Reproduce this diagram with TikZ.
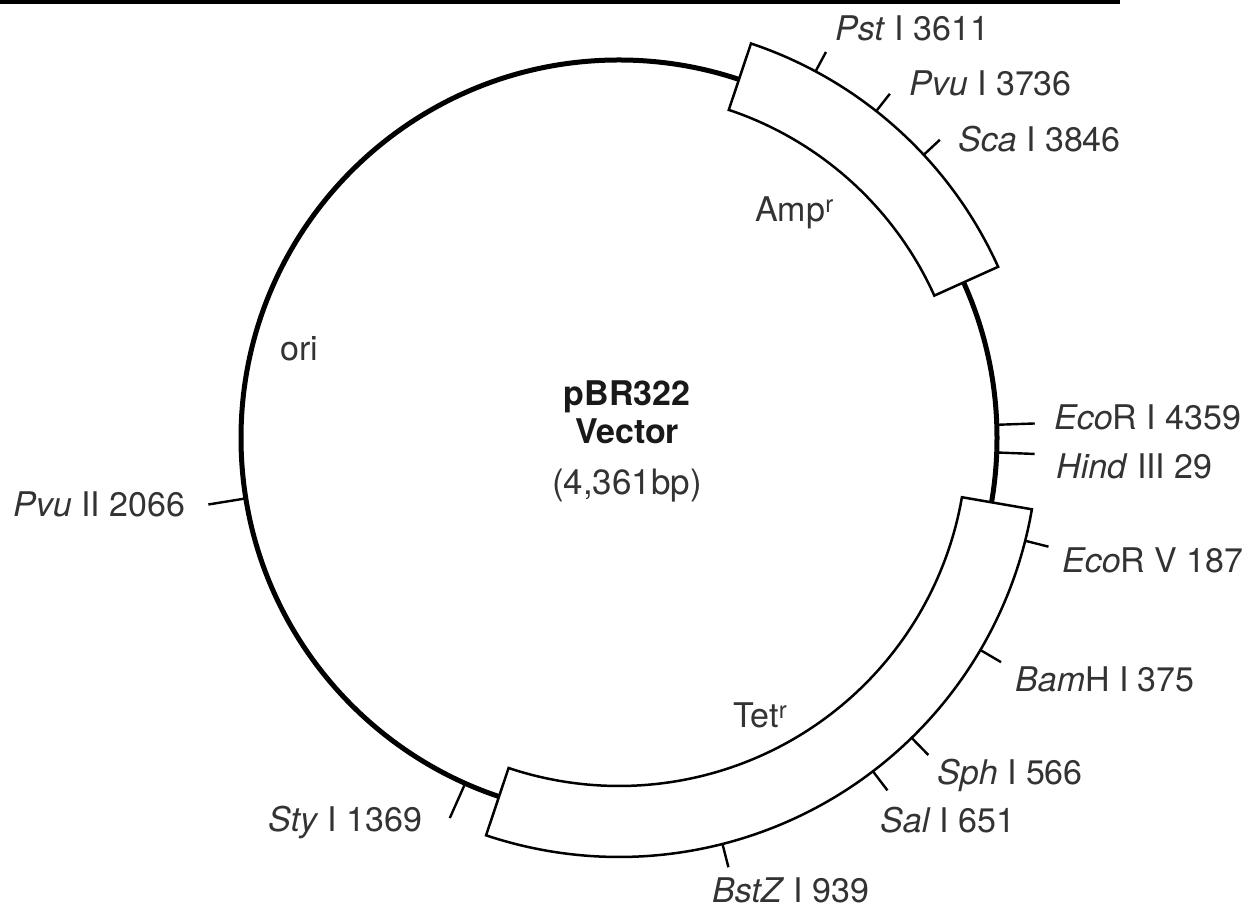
\documentclass[tikz,border=0pt]{standalone}
\usepackage{fontspec}
\setmainfont{TeX Gyre Heros}
\begin{document}
\begin{tikzpicture}[x=1pt,y=1pt,
  lbl/.style={inner sep=0pt, anchor=base west, font=\fontsize{34}{40}\selectfont, text=black!80},
  ctr/.style={inner sep=0pt, anchor=base, font=\fontsize{35}{40}\selectfont, text=black!80},
  ctrbold/.style={ctr, font=\fontsize{34}{40}\selectfont\bfseries, text=black!90},
  tickline/.style={line width=2.4pt},
  genebox/.style={draw, fill=white, line width=2.5pt, line join=miter},
  backbone/.style={line width=5pt}]
\useasboundingbox (0,0) rectangle (1256,909);
% top rule
\coordinate (ruleL) at (0,907);
\coordinate (ruleR) at (1120,907);
\draw[line width=4pt] (ruleL) -- (ruleR);
% plasmid backbone
\coordinate (c) at (619,471);
\draw[backbone] (c) circle[radius=378];
% ticks on the backbone
\foreach \a in {2,-2.2,-114,189.2}{
  \draw[tickline, shift={(c)}] (\a:378) -- (\a:416);
}
% gene boxes
\draw[genebox, shift={(c)}] (24.3:346) arc[start angle=24.3, end angle=71.5, radius=346]
   -- (71.5:416) arc[start angle=71.5, end angle=24.3, radius=416] -- cycle;
\draw[genebox, shift={(c)}] (-108.5:348) arc[start angle=-108.5, end angle=-9.8, radius=348]
   -- (-9.8:419) arc[start angle=-9.8, end angle=-108.5, radius=419] -- cycle;
% ticks on Amp box
\foreach \a in {61.8,51.8,42.9}{
  \draw[tickline, shift={(c)}] (\a:416) -- (\a:438);
}
% ticks on Tet box
\foreach \a in {-14.2,-30.4,-45.7,-52.7,-75.7}{
  \draw[tickline, shift={(c)}] (\a:419) -- (\a:443);
}
% labels
\node[lbl] (pst)  at (835,868) {\textit{Pst} I 3611};
\node[lbl] (pvui) at (909,813) {\textit{Pvu} I 3736};
\node[lbl] (sca)  at (958,757) {\textit{Sca} I 3846};
\node[lbl] (amp)  at (755,687) {Amp\textsuperscript{r}};
\node[lbl] (ecori) at (1054,479) {\textit{Eco}R I 4359};
\node[lbl] (hind) at (1056,430) {\textit{Hind} III 29};
\node[lbl] (ecorv) at (1062,336) {\textit{Eco}R V 187};
\node[lbl] (bam)  at (1015,217) {\textit{Bam}H I 375};
\node[lbl] (sph)  at (937,124) {\textit{Sph} I 566};
\node[lbl] (sal)  at (880,76) {\textit{Sal} I 651};
\node[lbl] (bstz) at (712,6) {\textit{BstZ} I 939};
\node[lbl] (sty)  at (268,77) {\textit{Sty} I 1369};
\node[lbl] (pvuii) at (13,392) {\textit{Pvu} II 2066};
\node[lbl] (ori)  at (280,548) {ori};
\node[lbl] (tet)  at (733,181) {Tet\textsuperscript{r}};
\node[ctrbold] (name) at (627,503) {pBR322};
\node[ctrbold] (vec)  at (627,465) {Vector};
\node[ctr] (size) at (627,414) {(4,361bp)};
\end{tikzpicture}
\end{document}
